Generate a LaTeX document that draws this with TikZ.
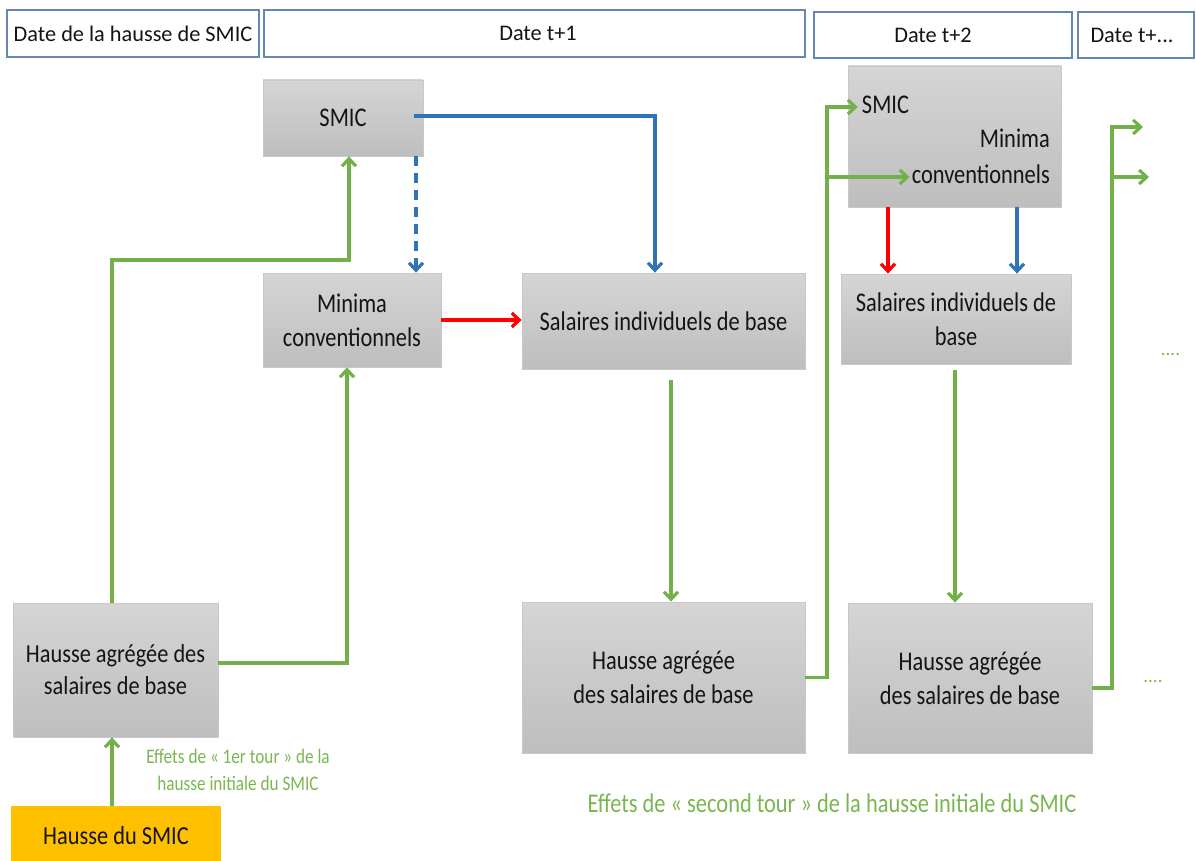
\documentclass[tikz,border=0pt]{standalone}
\usepackage{fontspec}
\setmainfont{Carlito}
\newfontfamily\condf[FakeStretch=0.83]{Carlito}
\newfontfamily\condg[FakeStretch=0.86]{Carlito}
\usetikzlibrary{arrows.meta}
\definecolor{hdrblue}{RGB}{100,135,180}
\definecolor{gtop}{RGB}{213,213,213}
\definecolor{gbot}{RGB}{190,190,190}
\definecolor{gborder}{RGB}{200,200,200}
\definecolor{lgreen}{RGB}{116,176,74}
\definecolor{tgreen}{RGB}{122,182,80}
\definecolor{lblue}{RGB}{47,117,181}
\definecolor{lred}{RGB}{255,0,0}
\definecolor{orng}{RGB}{255,192,0}
\definecolor{txt}{RGB}{20,20,20}
\begin{document}
\begin{tikzpicture}[x=1pt,y=-1pt,
  hdr/.style={draw=hdrblue,line width=1.4pt,fill=white,inner sep=0pt,text=txt,font=\fontsize{22.3}{26}\selectfont},
  gbox/.style={draw=gborder,line width=0.8pt,top color=gtop,bottom color=gbot,inner sep=0pt,align=center,text=txt,font=\condf\fontsize{27}{34}\selectfont},
  nbox/.style={gbox,font=\condg\fontsize{26}{32}\selectfont},
  tnode/.style={inner sep=2pt,text=txt,font=\condf\fontsize{27}{36}\selectfont},
  conn/.style={line width=3.2pt,-{Straight Barb[length=7.5pt,width=14pt]}},
  gconn/.style={conn,draw=lgreen},
  bconn/.style={conn,draw=lblue},
  rconn/.style={conn,draw=lred},
  gtext/.style={text=tgreen,inner sep=0pt}
]
\useasboundingbox (0,0) rectangle (1196,861);

% headers
\node[hdr,minimum width=252pt,minimum height=47pt] (h1) at (133,33.5) {Date de la hausse de SMIC};
\node[hdr,minimum width=541pt,minimum height=47pt] (h2) at (534.5,33.5) {\hspace*{7pt}Date t+1};
\node[hdr,minimum width=258pt,minimum height=46pt] (h3) at (943,35) {\hspace*{-20pt}Date t+2};
\node[hdr,minimum width=116pt,minimum height=46pt] (h4) at (1136,35) {\hspace*{-8pt}Date t+...};

% boxes
\node[gbox,minimum width=160pt,minimum height=76pt] (smic1) at (343,118) {SMIC};
\node[gbox,minimum width=178pt,minimum height=94pt] (mini1) at (352,320) {Minima\\conventionnels};
\node[gbox,minimum width=283pt,minimum height=96pt] (sal1) at (663.5,321) {Salaires individuels de base};
\node[gbox,minimum width=213pt,minimum height=141pt] (top2) at (954.5,136.5) {};
\node[tnode,inner sep=4pt] (smicT) at (885.5,105) {SMIC};
\node[tnode,align=right,anchor=east] (minT) at (1052,156) {Minima\\conventionnels};
\node[gbox,minimum width=230pt,minimum height=90pt] (sal2) at (956,319) {Salaires individuels de\\base};
\node[nbox,minimum width=205pt,minimum height=134pt] (hag1) at (115.5,670) {Hausse agrégée des\\salaires de base};
\node[gbox,minimum width=283pt,minimum height=151pt] (hag2) at (663.5,677.5) {Hausse agrégée\\des salaires de base};
\node[gbox,minimum width=244pt,minimum height=150pt] (hag3) at (970,678) {Hausse agrégée\\des salaires de base};
\node[fill=orng,inner sep=0pt,minimum width=210pt,minimum height=60pt,text=txt,font=\condg\fontsize{26}{30}\selectfont] (hsmic) at (116,836) {Hausse du SMIC};

% labels
\node[gtext,align=center,font=\condf\fontsize{20.7}{27}\selectfont] (lab1) at (238,770) {Effets de « 1er tour » de la\\hausse initiale du SMIC};
\node[gtext,font=\condf\fontsize{27}{32}\selectfont] (lab2) at (832,803) {Effets de « second tour » de la hausse initiale du SMIC};
\node[gtext,anchor=base,font=\fontsize{19}{19}\selectfont] (dots1) at (1170.5,355) {....};
\node[gtext,anchor=base,font=\fontsize{19}{19}\selectfont] (dots2) at (1153,682) {....};

% helper coordinates
\coordinate (c1) at (112,0);
\coordinate (k1) at (349,260);
\coordinate (k2) at (347,663);
\coordinate (k3) at (416,0);
\coordinate (k4) at (414,116);
\coordinate (k5) at (655,116);
\coordinate (k6) at (0,320);
\coordinate (k7) at (671,0);
\coordinate (k8) at (827,107);
\coordinate (k9) at (827,177);
\coordinate (k10) at (888,0);
\coordinate (k11) at (1017,0);
\coordinate (k12) at (955,0);
\coordinate (k13) at (1112,688);
\coordinate (k14) at (1112,127);
\coordinate (k15) at (1143,127);
\coordinate (k16) at (1112,177);
\coordinate (k17) at (1149,177);

% connectors
\draw[gconn] (hsmic.north -| c1) -- (hag1.south -| c1);
\draw[gconn] (hag1.north -| c1) |- (k1) -- (smic1.south -| k1);
\draw[gconn] (hag1.east |- k2) -- (k2) -- (mini1.south -| k2);
\draw[bconn,dash pattern=on 10pt off 7pt] (smic1.south -| k3) -- (mini1.north -| k3);
\draw[bconn] (k4) -- (k5) -- (sal1.north -| k5);
\draw[rconn] (mini1.east |- k6) -- (sal1.west |- k6);
\draw[gconn,shorten <=11pt] (sal1.south -| k7) -- (hag2.north -| k7);
\draw[gconn] (hag2.east) -| (k8) -- (smicT.west |- k8);
\draw[gconn] (k9) -- (minT.west |- k9);
\draw[rconn] (top2.south -| k10) -- (sal2.north -| k10);
\draw[bconn] (top2.south -| k11) -- (sal2.north -| k11);
\draw[gconn,shorten <=6pt] (sal2.south -| k12) -- (hag3.north -| k12);
\draw[gconn] (hag3.east |- k13) -- (k13) -- (k14) -- (k15);
\draw[gconn] (k16) -- (k17);
\end{tikzpicture}
\end{document}
